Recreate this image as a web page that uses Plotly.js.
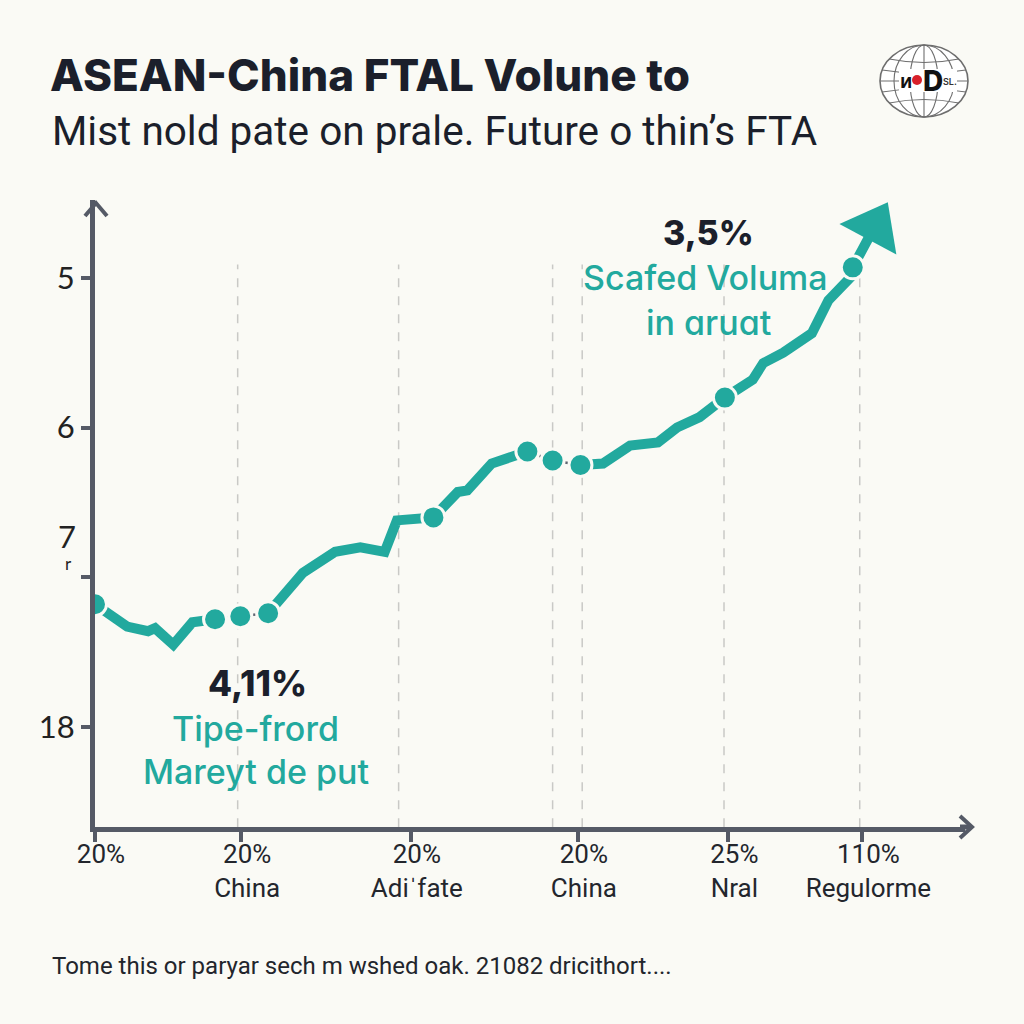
<!DOCTYPE html>
<html><head><meta charset="utf-8">
<script src="https://cdn.plot.ly/plotly-3.0.1.min.js"></script>
<style>html,body{margin:0;padding:0;background:#FAFAF5}</style>
</head><body>
<div id="chart" style="width:1024px;height:1024px"></div>
<script>
// ---- data ----
const periods = [0,3.7,6.1,6.9,9.0,11.2,13.8,16.7,19.9,23.9,27.6,30.5,33.3,34.7,38.9,41.7,42.8,45.6,49.7,52.6,55.8,58.4,61.5,64.7,66.9,69.5,72.4,73.3,75.6,76.8,79.1,82.4,84.3,86.8,87.1,89.6];
const volume  = [1.82,1.67,1.64,1.66,1.55,1.70,1.72,1.74,1.76,2.03,2.17,2.20,2.17,2.38,2.40,2.57,2.58,2.76,2.84,2.78,2.75,2.76,2.88,2.90,3.00,3.07,3.20,3.23,3.32,3.43,3.50,3.63,3.85,4.00,4.07,4.34];
const milestone = [1,0,0,0,0,0,1,1,1,0,0,0,0,0,1,0,0,0,1,1,1,0,0,0,0,0,1,0,0,0,0,0,0,0,1,0];
const gridPeriods = [16.4,34.9,52.6,56.0,72.3,87.9];
const xTickVals = [0,16.8,36.3,55.5,72.8,88.2];
const xTickText = ['20%','20%<br>China','20%<br>Adi\u02c8fate','20%<br>China','25%<br>Nral','110%<br>Regulorme'];
const yTickVals = [4,3,2,1];
const yTickText = ['5','6','','18'];

// ---- layout helpers ----
const L = 95, R = 965, T = 200, B = 827;
const PX = p => (p - L) / (R - L);
const PY = p => (B - p) / (B - T);
const TEAL = '#22A99E';
const AXIS = '#555A66';
const DARK = '#1B1F2B';
const BG = '#FAFAF5';

// thick teal line, broken between consecutive milestones, with thin gray connectors there
const n = periods.length;
const tx = [], ty = [], gx = [], gy = [];
for (let i = 0; i < n; i++) {
  tx.push(periods[i]); ty.push(volume[i]);
  if (i < n - 1 && milestone[i] && milestone[i + 1]) {
    tx.push(null); ty.push(null);
    gx.push(periods[i], periods[i + 1], null);
    gy.push(volume[i], volume[i + 1], null);
  }
}
const mx = [], my = [];
milestone.forEach((m, i) => { if (m) { mx.push(periods[i]); my.push(volume[i]); } });

const traces = [
  {x: gx, y: gy, mode: 'lines', line: {color: '#5E6470', width: 2.5}, hoverinfo: 'skip'},
  {x: tx, y: ty, mode: 'lines', line: {color: TEAL, width: 10}, connectgaps: false, hoverinfo: 'skip'},
  {x: mx, y: my, mode: 'markers', marker: {color: TEAL, size: 23, opacity: 1, line: {color: BG, width: 3}}, hoverinfo: 'skip'},
  {x: [periods[n - 2], periods[n - 1]], y: [volume[n - 2], volume[n - 1]], mode: 'markers',
   marker: {symbol: ['circle', 'triangle-up'], size: [1, 56], color: TEAL, opacity: 1, angleref: 'previous', line: {width: 0}}, hoverinfo: 'skip'}
];

const shapes = [];
gridPeriods.forEach(g => shapes.push({type: 'line', xref: 'x', yref: 'y', x0: g, x1: g, y0: 0.33, y1: 4.09,
  line: {color: '#C9C9C6', width: 1.5, dash: 'dash'}, layer: 'below'}));
// axis arrow chevrons
shapes.push({type: 'path', xref: 'paper', yref: 'paper',
  path: `M${PX(85)},${PY(216)} L${PX(96)},${PY(203)} L${PX(107)},${PY(216)}`, line: {color: AXIS, width: 4}});
shapes.push({type: 'line', xref: 'paper', yref: 'paper', x0: PX(960), x1: PX(971), y0: PY(827), y1: PY(827), line: {color: AXIS, width: 5}});
shapes.push({type: 'path', xref: 'paper', yref: 'paper',
  path: `M${PX(960)},${PY(816)} L${PX(972)},${PY(827)} L${PX(960)},${PY(838)}`, line: {color: AXIS, width: 4}});
// globe logo
const gc = [924, 81], GRX = 44, GRY = 36, GL = '#6E6E6E';
const ell = (rx, ry, w) => ({type: 'circle', xref: 'paper', yref: 'paper', x0: PX(gc[0] - rx), x1: PX(gc[0] + rx), y0: PY(gc[1] + ry), y1: PY(gc[1] - ry), line: {color: GL, width: w}});
shapes.push(Object.assign(ell(GRX, GRY, 1.6), {fillcolor: '#FFFFFF'}));
shapes.push(ell(30, GRY, 1.1));
shapes.push(ell(14, GRY, 1.1));
shapes.push({type: 'line', xref: 'paper', yref: 'paper', x0: PX(gc[0]), x1: PX(gc[0]), y0: PY(gc[1] - GRY), y1: PY(gc[1] + GRY), line: {color: GL, width: 1.1}});
[-22, -11, 11, 22].forEach(dy => {
  const y = gc[1] + dy, half = GRX * Math.sqrt(1 - (dy / GRY) * (dy / GRY));
  const bow = dy < 0 ? 7 : -7;
  shapes.push({type: 'path', xref: 'paper', yref: 'paper',
    path: `M${PX(gc[0] - half)},${PY(y)} Q${PX(gc[0])},${PY(y + bow)} ${PX(gc[0] + half)},${PY(y)}`,
    line: {color: GL, width: 1.1}});
});
shapes.push({type: 'line', xref: 'paper', yref: 'paper', x0: PX(gc[0] - GRX), x1: PX(gc[0] + GRX), y0: PY(gc[1]), y1: PY(gc[1]), line: {color: GL, width: 1.1}});
shapes.push({type: 'rect', xref: 'paper', yref: 'paper', x0: PX(899), x1: PX(957), y0: PY(92), y1: PY(69), fillcolor: '#FFFFFF', line: {width: 0}});
shapes.push({type: 'circle', xref: 'paper', yref: 'paper', x0: PX(912), x1: PX(922), y0: PY(85), y1: PY(75), fillcolor: '#D8202A', line: {width: 0}});

const ann = (x, y, text, size, color, weight, family, extra) => Object.assign({
  xref: 'paper', yref: 'paper', x: PX(x), y: PY(y), text, showarrow: false, xanchor: 'center', yanchor: 'middle',
  font: {size, color, weight: weight || 400, family: family || 'Inter, Lato, sans-serif'}}, extra || {});

const annotations = [
  ann(50, 131, 'Mist nold pate on prale. Future o thin\u2019s FTA', 40.5, DARK, 400, 'Roboto, "Noto Sans", sans-serif', {xanchor: 'left'}),
  ann(50, 966, 'Tome this or paryar sech m wshed oak. 21082 dricithort....', 24, '#22252C', 400, '"Liberation Sans Narrow", Roboto, sans-serif', {xanchor: 'left'}),
  ann(708, 232, '3,5%', 34, DARK, 800),
  ann(705, 277, 'Scafed Voluma', 34, TEAL, 500),
  ann(708, 322, 'in \u0251ru\u0251t', 34, TEAL, 500),
  ann(257, 683, '4,11%', 35, DARK, 800),
  ann(255, 728, 'Tipe-frord', 34, TEAL, 500),
  ann(256, 771, 'Mareyt de put', 34, TEAL, 500),
  ann(67, 536, '7', 31, '#222', 400, 'Lato, Inter, sans-serif'),
  ann(68, 563, 'r', 17, '#222', 400, 'Lato, Inter, sans-serif'),
  ann(906, 81, '\u1d0e', 20, '#111', 800, 'Inter, sans-serif'),
  ann(933, 81, 'D', 28, '#111', 800, 'Inter, sans-serif'),
  ann(950, 82, 'SL.', 9, '#333', 600, 'Inter, sans-serif')
];

const layout = {
  width: 1024, height: 1024,
  margin: {l: L, r: 1024 - R, t: T, b: 1024 - B},
  paper_bgcolor: BG, plot_bgcolor: BG,
  showlegend: false,
  title: {text: 'ASEAN-China FTAL Volune to', x: 50 / 1024, xanchor: 'left', xref: 'container',
    y: 1 - 76 / 1024, yref: 'container', yanchor: 'middle',
    font: {size: 44, color: DARK, weight: 800, family: 'Inter, Lato, sans-serif'}},
  xaxis: {range: [0, 100], showgrid: false, zeroline: false, showline: true, linecolor: AXIS, linewidth: 5,
    tickmode: 'array', tickvals: xTickVals, ticktext: xTickText, ticks: 'outside', ticklen: 10, tickwidth: 4, tickcolor: AXIS,
    ticklabelshift: 6, ticklabelstandoff: -10,
    tickfont: {size: 26, color: '#23262D', family: '"Liberation Sans Narrow", Roboto, sans-serif'}, fixedrange: true},
  yaxis: {range: [0.332, 4.52], showgrid: false, zeroline: false, showline: true, linecolor: AXIS, linewidth: 5,
    tickmode: 'array', tickvals: yTickVals, ticktext: yTickText, ticks: 'outside', ticklen: 9, tickwidth: 4, tickcolor: AXIS,
    tickfont: {size: 31, color: '#222', family: 'Lato, Inter, sans-serif'}, fixedrange: true},
  shapes, annotations
};

Plotly.newPlot('chart', traces, layout, {displayModeBar: false, staticPlot: true});
</script>
</body></html>
